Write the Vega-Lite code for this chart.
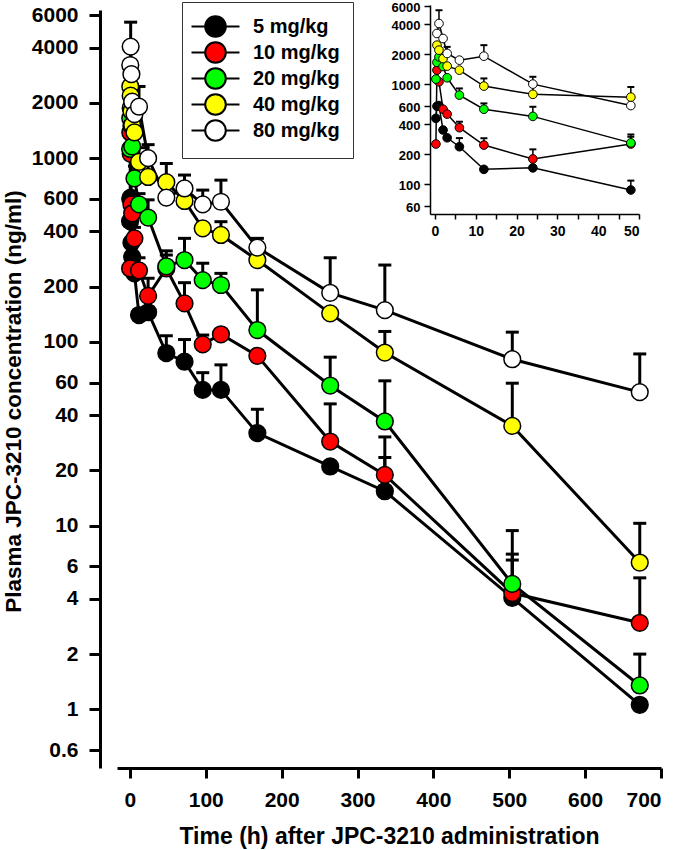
{
  "$schema": "https://vega.github.io/schema/vega-lite/v6.json",
  "width": 544,
  "height": 758,
  "autosize": "none",
  "padding": {"left": 117, "top": 10, "right": 19, "bottom": 82},
  "config": {
    "view": {"stroke": null},
    "font": "Liberation Sans",
    "axis": {"grid": false, "domainColor": "black", "tickColor": "black", "labelColor": "black", "titleColor": "black", "labelFont": "Liberation Sans", "titleFont": "Liberation Sans", "labelFontWeight": "bold", "titleFontWeight": "bold"}
  },
  "data": {"values": [
    {"dose": "5 mg/kg", "t": 0.25, "c": 454},
    {"dose": "5 mg/kg", "t": 0.5, "c": 600},
    {"dose": "5 mg/kg", "t": 1, "c": 610},
    {"dose": "5 mg/kg", "t": 2, "c": 347},
    {"dose": "5 mg/kg", "t": 3, "c": 290},
    {"dose": "5 mg/kg", "t": 6, "c": 236, "hi": 288},
    {"dose": "5 mg/kg", "t": 12, "c": 140},
    {"dose": "5 mg/kg", "t": 24, "c": 145},
    {"dose": "5 mg/kg", "t": 48, "c": 87, "hi": 108},
    {"dose": "5 mg/kg", "t": 72, "c": 78, "hi": 103},
    {"dose": "5 mg/kg", "t": 96, "c": 54.8, "hi": 68},
    {"dose": "5 mg/kg", "t": 120, "c": 54.8, "hi": 75},
    {"dose": "5 mg/kg", "t": 168, "c": 31.9, "hi": 43},
    {"dose": "5 mg/kg", "t": 264, "c": 21},
    {"dose": "5 mg/kg", "t": 336, "c": 15.4, "hi": 23.5},
    {"dose": "5 mg/kg", "t": 504, "c": 4.05, "hi": 6.5},
    {"dose": "5 mg/kg", "t": 672, "c": 1.06},
    {"dose": "10 mg/kg", "t": 0.25, "c": 251},
    {"dose": "10 mg/kg", "t": 0.5, "c": 1380},
    {"dose": "10 mg/kg", "t": 1, "c": 1055},
    {"dose": "10 mg/kg", "t": 2, "c": 560},
    {"dose": "10 mg/kg", "t": 3, "c": 501},
    {"dose": "10 mg/kg", "t": 6, "c": 366, "hi": 420},
    {"dose": "10 mg/kg", "t": 12, "c": 245, "hi": 287},
    {"dose": "10 mg/kg", "t": 24, "c": 178, "hi": 222},
    {"dose": "10 mg/kg", "t": 48, "c": 251, "hi": 297},
    {"dose": "10 mg/kg", "t": 72, "c": 162, "hi": 210},
    {"dose": "10 mg/kg", "t": 96, "c": 97, "hi": 109},
    {"dose": "10 mg/kg", "t": 120, "c": 110},
    {"dose": "10 mg/kg", "t": 168, "c": 84},
    {"dose": "10 mg/kg", "t": 264, "c": 28.7, "hi": 46},
    {"dose": "10 mg/kg", "t": 336, "c": 18.9, "hi": 30.4},
    {"dose": "10 mg/kg", "t": 504, "c": 4.3, "hi": 7.0},
    {"dose": "10 mg/kg", "t": 672, "c": 2.96, "hi": 5.2},
    {"dose": "20 mg/kg", "t": 0.25, "c": 1122},
    {"dose": "20 mg/kg", "t": 0.5, "c": 1650},
    {"dose": "20 mg/kg", "t": 1, "c": 1875},
    {"dose": "20 mg/kg", "t": 2, "c": 1500},
    {"dose": "20 mg/kg", "t": 3, "c": 1157},
    {"dose": "20 mg/kg", "t": 6, "c": 776, "hi": 905},
    {"dose": "20 mg/kg", "t": 12, "c": 560, "hi": 641},
    {"dose": "20 mg/kg", "t": 24, "c": 475, "hi": 593},
    {"dose": "20 mg/kg", "t": 48, "c": 258, "hi": 313},
    {"dose": "20 mg/kg", "t": 72, "c": 279, "hi": 366},
    {"dose": "20 mg/kg", "t": 96, "c": 217, "hi": 268},
    {"dose": "20 mg/kg", "t": 120, "c": 204, "hi": 236},
    {"dose": "20 mg/kg", "t": 168, "c": 116, "hi": 192},
    {"dose": "20 mg/kg", "t": 264, "c": 57.9, "hi": 82.6},
    {"dose": "20 mg/kg", "t": 336, "c": 36.9, "hi": 61.4},
    {"dose": "20 mg/kg", "t": 504, "c": 4.82, "hi": 9.4},
    {"dose": "20 mg/kg", "t": 672, "c": 1.35, "hi": 2.0},
    {"dose": "40 mg/kg", "t": 0.5, "c": 2455},
    {"dose": "40 mg/kg", "t": 1, "c": 2188},
    {"dose": "40 mg/kg", "t": 2, "c": 1800},
    {"dose": "40 mg/kg", "t": 3, "c": 1514},
    {"dose": "40 mg/kg", "t": 6, "c": 1380},
    {"dose": "40 mg/kg", "t": 12, "c": 955, "hi": 1140},
    {"dose": "40 mg/kg", "t": 24, "c": 790, "hi": 977},
    {"dose": "40 mg/kg", "t": 48, "c": 740, "hi": 935},
    {"dose": "40 mg/kg", "t": 72, "c": 585},
    {"dose": "40 mg/kg", "t": 96, "c": 415},
    {"dose": "40 mg/kg", "t": 120, "c": 382, "hi": 451},
    {"dose": "40 mg/kg", "t": 168, "c": 279},
    {"dose": "40 mg/kg", "t": 264, "c": 143},
    {"dose": "40 mg/kg", "t": 336, "c": 87.5, "hi": 114},
    {"dose": "40 mg/kg", "t": 504, "c": 34.9, "hi": 59.6},
    {"dose": "40 mg/kg", "t": 672, "c": 6.3, "hi": 10.3},
    {"dose": "80 mg/kg", "t": 0.5, "c": 3213},
    {"dose": "80 mg/kg", "t": 1, "c": 4045, "hi": 5495},
    {"dose": "80 mg/kg", "t": 2, "c": 2864},
    {"dose": "80 mg/kg", "t": 3, "c": 2028, "hi": 2360},
    {"dose": "80 mg/kg", "t": 6, "c": 1738},
    {"dose": "80 mg/kg", "t": 12, "c": 1905, "hi": 2455},
    {"dose": "80 mg/kg", "t": 24, "c": 1000, "hi": 1184},
    {"dose": "80 mg/kg", "t": 48, "c": 610},
    {"dose": "80 mg/kg", "t": 72, "c": 684, "hi": 809},
    {"dose": "80 mg/kg", "t": 96, "c": 560, "hi": 670},
    {"dose": "80 mg/kg", "t": 120, "c": 579, "hi": 759},
    {"dose": "80 mg/kg", "t": 168, "c": 326, "hi": 366},
    {"dose": "80 mg/kg", "t": 264, "c": 185, "hi": 287},
    {"dose": "80 mg/kg", "t": 336, "c": 149, "hi": 262},
    {"dose": "80 mg/kg", "t": 504, "c": 80.5, "hi": 113},
    {"dose": "80 mg/kg", "t": 672, "c": 53.3, "hi": 86}
  ]},
  "layer": [
    {
      "encoding": {
        "x": {"field": "t", "type": "quantitative",
          "scale": {"domain": [-17, 700], "nice": false, "zero": false},
          "axis": {"orient": "bottom", "values": [0, 100, 200, 300, 400, 500, 600, 700], "domainWidth": 3, "tickWidth": 3, "tickSize": 10, "labelFontSize": 21, "labelPadding": 11, "title": "Time (h) after JPC-3210 administration", "titleFontSize": 23, "titleBaseline": "alphabetic", "titleY": 75}},
        "y": {"field": "c", "type": "quantitative",
          "scale": {"type": "log", "domain": [0.48, 6400], "nice": false, "zero": false},
          "axis": {"orient": "left", "offset": 17, "values": [0.6, 1, 2, 4, 6, 10, 20, 40, 60, 100, 200, 400, 600, 1000, 2000, 4000, 6000], "format": "~g", "domainWidth": 3, "tickWidth": 3, "tickSize": 11, "labelFontSize": 21, "labelPadding": 11, "title": "Plasma JPC-3210 concentration (ng/ml)", "titleFontSize": 22.5, "titleAngle": 270, "titleBaseline": "middle", "titleAlign": "center", "titleX": -87, "titleY": 391}}
      },
      "layer": [
        {"transform": [{"filter": "isValid(datum.hi)"}],
         "mark": {"type": "rule", "color": "black", "strokeWidth": 3, "opacity": 1},
         "encoding": {"y2": {"field": "hi"}}},
        {"transform": [{"filter": "isValid(datum.hi)"}],
         "mark": {"type": "tick", "orient": "horizontal", "color": "black", "size": 13, "thickness": 3, "opacity": 1},
         "encoding": {"y": {"field": "hi", "type": "quantitative"}}},
        {"mark": {"type": "line", "color": "black", "strokeWidth": 3},
         "encoding": {"detail": {"field": "dose"}}},
        {"mark": {"type": "circle", "size": 280, "stroke": "black", "strokeWidth": 1.5, "opacity": 1},
         "encoding": {"fill": {"field": "dose", "type": "nominal",
           "scale": {"domain": ["5 mg/kg", "10 mg/kg", "20 mg/kg", "40 mg/kg", "80 mg/kg"], "range": ["#000000", "#FF0000", "#00FF00", "#FFFF00", "#FFFFFF"]},
           "legend": {"orient": "none", "legendX": 65, "legendY": -8, "title": null,
             "symbolType": "M-2.33,0L-1,0M1,0L2.33,0M-1,0A1,1,0,1,1,1,0A1,1,0,1,1,-1,0Z",
             "symbolSize": 424, "symbolStrokeColor": "black", "symbolStrokeWidth": 2,
             "labelFont": "Liberation Sans", "labelFontSize": 20, "labelFontWeight": "bold", "labelColor": "black",
             "labelOffset": 26, "rowPadding": -3, "padding": 13, "symbolOffset": 9,
             "strokeColor": "#333333", "fillColor": "white"}}}}
      ]
    },
    {
      "transform": [{"filter": "datum.t <= 48"}],
      "encoding": {
        "x": {"field": "t", "type": "quantitative",
          "scale": {"domain": [-1.2, 50], "range": [313, 522], "nice": false, "zero": false},
          "axis": {"orient": "bottom", "offset": -554, "values": [0, 5, 10, 15, 20, 25, 30, 35, 40, 45, 50], "labelExpr": "datum.value % 10 == 0 ? datum.label : ''", "domainWidth": 1.5, "tickWidth": 1.5, "tickSize": 5, "labelFontSize": 14, "labelPadding": 5, "title": null}},
        "y": {"field": "c", "type": "quantitative",
          "scale": {"type": "log", "domain": [50, 6200], "range": [204, -5], "nice": false, "zero": false},
          "axis": {"orient": "left", "offset": -313, "values": [60, 100, 200, 400, 600, 1000, 2000, 4000, 6000], "format": "~g", "domainWidth": 1.5, "tickWidth": 1.5, "tickSize": 6, "labelFontSize": 13, "labelOffset": 1.5, "labelPadding": 4, "title": null}}
      },
      "layer": [
        {"transform": [{"filter": "isValid(datum.hi)"}],
         "mark": {"type": "rule", "color": "black", "strokeWidth": 1.5, "opacity": 1},
         "encoding": {"y2": {"field": "hi"}}},
        {"transform": [{"filter": "isValid(datum.hi)"}],
         "mark": {"type": "tick", "orient": "horizontal", "color": "black", "size": 7, "thickness": 2, "opacity": 1},
         "encoding": {"y": {"field": "hi", "type": "quantitative"}}},
        {"mark": {"type": "line", "color": "black", "strokeWidth": 1.5},
         "encoding": {"detail": {"field": "dose"}}},
        {"mark": {"type": "circle", "size": 75, "stroke": "black", "strokeWidth": 1, "opacity": 1},
         "encoding": {"fill": {"field": "dose", "type": "nominal", "legend": null}}}
      ]
    }
  ],
  "resolve": {"scale": {"x": "independent", "y": "independent"}}
}
